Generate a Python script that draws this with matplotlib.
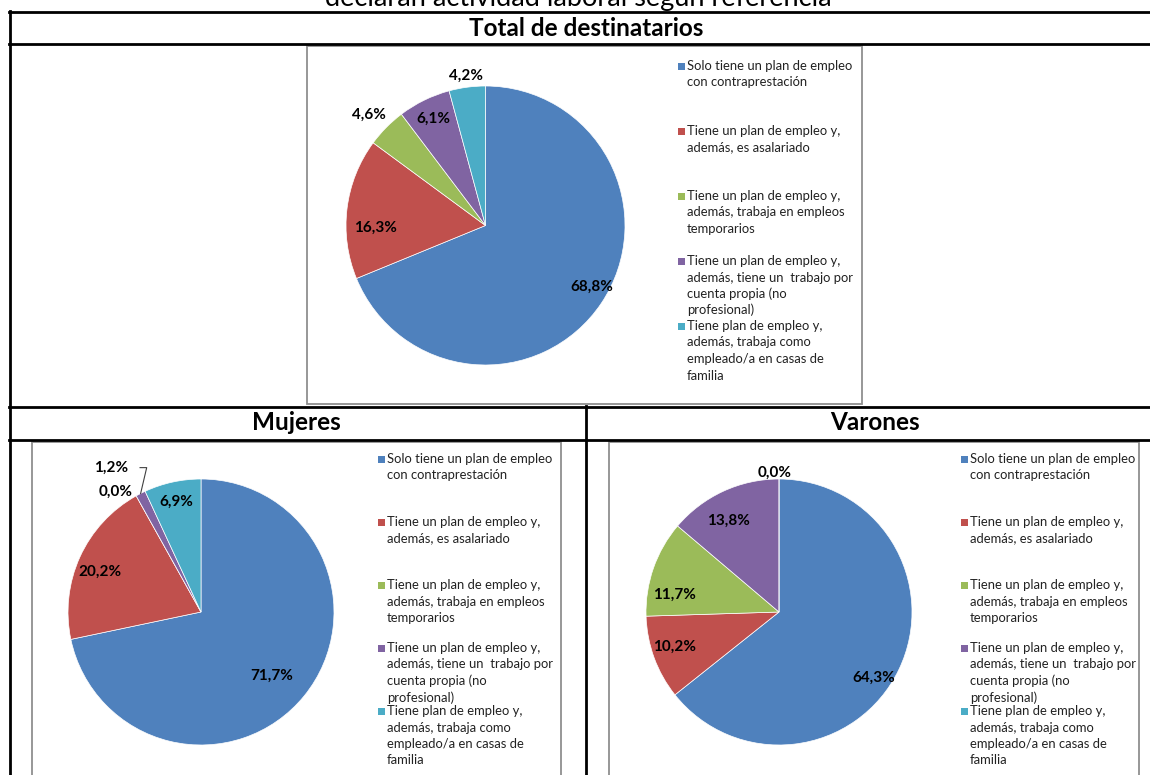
import numpy as np
import matplotlib
matplotlib.use("Agg")
import matplotlib.pyplot as plt
from matplotlib.lines import Line2D
from matplotlib.patches import Rectangle

plt.rcParams["font.family"] = ["Lato", "DejaVu Sans"]

W, H = 1150, 775

categories = [
    ["Solo tiene un plan de empleo", "con contraprestación"],
    ["Tiene un plan de empleo y,", "además, es asalariado"],
    ["Tiene un plan de empleo y,", "además, trabaja en empleos", "temporarios"],
    ["Tiene un plan de empleo y,", "además, tiene un  trabajo por", "cuenta propia (no", "profesional)"],
    ["Tiene plan de empleo y,", "además, trabaja como", "empleado/a en casas de", "familia"],
]
colors = ["#4F81BD", "#C0504D", "#9BBB59", "#8064A2", "#4BACC6"]

total_vals = [68.8, 16.3, 4.6, 6.1, 4.2]
mujeres_vals = [71.7, 20.2, 0.0, 1.2, 6.9]
varones_vals = [64.3, 10.2, 11.7, 13.8, 0.0]

title = "declaran actividad laboral según referencia"
headers = ["Total de destinatarios", "Mujeres", "Varones"]


def fx(x):
    return x / W


def fy(y):
    return 1 - y / H


fig = plt.figure(figsize=(W / 100, H / 100), dpi=100)

# table frame
def hline(y, x0, x1):
    fig.add_artist(Line2D([fx(x0), fx(x1)], [fy(y), fy(y)], transform=fig.transFigure,
                          color="black", lw=2))


def vline(x, y0, y1):
    fig.add_artist(Line2D([fx(x), fx(x)], [fy(y0), fy(y1)], transform=fig.transFigure,
                          color="black", lw=2))


for y in [12, 44, 407, 440]:
    hline(y, 9, 1152)
vline(10, 11, 780)
vline(586, 406, 780)


def gray_box(x0, y0, x1, y1):
    fig.add_artist(Rectangle((fx(x0), fy(y1)), fx(x1) - fx(x0), fy(y0) - fy(y1),
                             transform=fig.transFigure, fill=False,
                             edgecolor="#8f8f8f", lw=1.3))


gray_box(307, 46, 862, 404)
gray_box(32, 442, 561, 790)
gray_box(609, 442, 1139, 790)

# title is cut by the top edge, as in the source image
fig.text(fx(578), fy(6), title, ha="center", va="baseline", fontsize=19.5)
fig.text(fx(586), fy(29), headers[0], ha="center", va="center", fontsize=17.5, fontweight="bold")
fig.text(fx(296), fy(423), headers[1], ha="center", va="center", fontsize=17.5, fontweight="bold")
fig.text(fx(875), fy(423), headers[2], ha="center", va="center", fontsize=17.5, fontweight="bold")


def fmt(v):
    return f"{v:.1f}%".replace(".", ",")


def draw_pie(vals, cx, cy, r, label_pos, leader=None):
    ax = fig.add_axes([fx(cx - r), fy(cy + r), 2 * r / W, 2 * r / H])
    ax.pie(vals, colors=colors, startangle=90, counterclock=False, radius=1,
           wedgeprops=dict(edgecolor="white", linewidth=0.5))
    ax.set_xlim(-1, 1)
    ax.set_ylim(-1, 1)
    ax.set_aspect("equal")
    ax.axis("off")
    cum = np.cumsum([0] + list(vals))
    for i, v in enumerate(vals):
        mid = 90 - (cum[i] + v / 2) / 100 * 360
        d, da = label_pos[i]
        a = np.deg2rad(mid + da)
        ax.text(d * np.cos(a), d * np.sin(a), fmt(v), ha="center", va="center",
                fontsize=11, fontweight="bold", clip_on=False)
        if leader is not None and leader[0] == i:
            a0 = np.deg2rad(mid)
            lx, ly = d * np.cos(a) + leader[1], d * np.sin(a)
            ax.plot([lx, lx + 0.05, np.cos(a0)], [ly, ly, np.sin(a0)],
                    color="#404040", lw=0.8, clip_on=False)


def draw_legend(x, y0, step):
    for i, lines in enumerate(categories):
        ytop = y0 + i * step
        fig.add_artist(Rectangle((fx(x), fy(ytop + 4)), 7 / W, 7 / H,
                                 transform=fig.transFigure, color=colors[i], lw=0))
        for j, line in enumerate(lines):
            fig.text(fx(x + 9), fy(ytop + 4 + j * 16.5), line, ha="left", va="baseline",
                     fontsize=9.4, color="#222222")


draw_pie(total_vals, 485.5, 225.5, 139.5,
         [(0.88, 4), (0.79, 8), (1.15, 1), (0.85, 0), (1.08, 0)])
draw_pie(mujeres_vals, 201, 612, 133,
         [(0.72, -3), (0.82, 3), (1.11, 6), (1.28, 5), (0.85, 0)], leader=(3, 0.22))
draw_pie(varones_vals, 779, 612, 133,
         [(0.87, -9), (0.83, -2), (0.80, 10), (0.78, 4), (1.05, 2)])

draw_legend(678, 66, 65)
draw_legend(378, 459, 63)
draw_legend(961, 459, 63)

fig.savefig("out.png", dpi=100)
